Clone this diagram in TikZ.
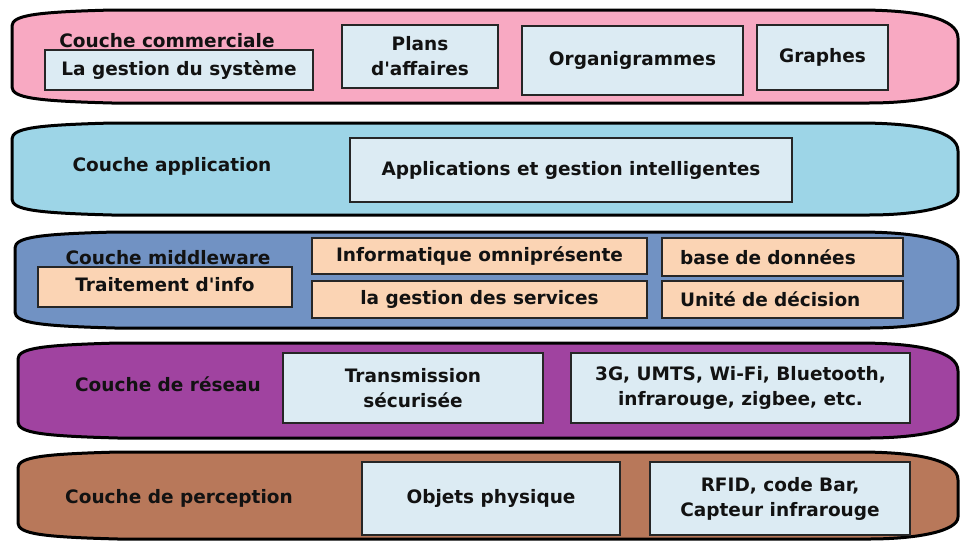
\documentclass[tikz,border=0pt]{standalone}
\usepackage{fontspec}
\setmainfont{DejaVu Sans}[Ligatures=TeXOff]

\definecolor{pinkfill}{HTML}{F8A9C2}
\definecolor{skyfill}{HTML}{9DD5E7}
\definecolor{steelfill}{HTML}{7192C3}
\definecolor{purplefill}{HTML}{A043A0}
\definecolor{brownfill}{HTML}{B8785A}
\definecolor{paleblue}{HTML}{DCEBF3}
\definecolor{peach}{HTML}{FBD4B4}
\definecolor{inkcol}{HTML}{121212}

% Layer band: #1 left x, #2 top y, #3 right x, #4 bottom y, #5 fill colour
\newcommand\coucheband[5]{%
  \filldraw[layerband, fill=#5]
    ({#1+100},#2) -- ({#3-100},#2)
    .. controls ({#3-40},#2) and (#3,{#2+8}) .. (#3,{#2+28})
    -- (#3,{#4-22})
    .. controls (#3,{#4-8}) and ({#3-40},#4) .. ({#3-90},#4)
    -- ({#1+100},#4)
    .. controls ({#1+25},{#4-2}) and (#1,{#4-5}) .. (#1,{#4-16})
    -- (#1,{#2+16})
    .. controls (#1,{#2+5}) and ({#1+25},{#2+2}) .. ({#1+100},#2)
    -- cycle;}

\begin{document}
\begin{tikzpicture}[x=1pt, y=-1pt,
  layerband/.style={draw=black, line width=3pt, line join=round},
  txt/.style={font=\fontsize{18.5}{25}\selectfont\bfseries, text=inkcol, align=center},
  box/.style={txt, draw=black!85, line width=1.3pt, inner sep=0pt},
  bluebox/.style={box, fill=paleblue},
  peachbox/.style={box, fill=peach},
  lab/.style={txt, inner sep=0pt}]

\useasboundingbox (0,0) rectangle (960,542);
\clip (0,0) rectangle (960,542);

% the five layer bands
\coucheband{12}{10}{958}{103}{pinkfill}
\coucheband{12}{123}{958}{215}{skyfill}
\coucheband{15}{232}{958}{328}{steelfill}
\coucheband{18}{343}{958}{438}{purplefill}
\coucheband{18}{452}{958}{539}{brownfill}

% business layer
\node[lab] (lcom) at (167,41) {Couche commerciale};
\node[bluebox, minimum width=268pt, minimum height=40pt] (sys) at (179,70) {La gestion du système};
\node[bluebox, minimum width=156pt, minimum height=63pt] (plans) at (420,56.5) {Plans\\d'affaires};
\node[bluebox, minimum width=221pt, minimum height=69pt] (orga) at (632.5,60.5) {Organigrammes};
\node[bluebox, minimum width=131pt, minimum height=65pt] (graph) at (822.5,57.5) {Graphes};

% application layer
\node[lab] (lapp) at (172,166) {Couche application};
\node[bluebox, minimum width=442pt, minimum height=64pt] (appl) at (571,170) {Applications et gestion intelligentes};

% middleware layer
\node[lab] (lmid) at (168,258) {Couche middleware};
\node[peachbox, minimum width=254pt, minimum height=40pt] (trait) at (165,287) {\raisebox{6pt}{Traitement d'info}};
\node[peachbox, minimum width=335pt, minimum height=36pt] (info) at (479.5,256) {\raisebox{-3pt}{Informatique omniprésente}};
\node[peachbox, minimum width=335pt, minimum height=37pt] (serv) at (479.5,299.5) {\raisebox{-4pt}{la gestion des services}};
\node[peachbox, minimum height=38pt, text width=205pt, inner xsep=18pt, align=left] (bdd) at (782.5,257) {\raisebox{-2pt}{base de données}};
\node[peachbox, minimum height=37pt, text width=205pt, inner xsep=18pt, align=left] (unite) at (782.5,299.5) {Unité de décision};

% network layer
\node[lab] (lres) at (168,384) {Couche de réseau};
\node[bluebox, minimum width=260pt, minimum height=70pt] (trans) at (413,388) {Transmission\\sécurisée};
\node[bluebox, minimum width=339pt, minimum height=70pt] (radio) at (740.5,388) {3G, UMTS, Wi-Fi, Bluetooth,\\infrarouge, zigbee, etc.};

% perception layer
\node[lab] (lper) at (179,498) {Couche de perception};
\node[bluebox, minimum width=258pt, minimum height=73pt] (obj) at (491,498.5) {Objets physique};
\node[bluebox, minimum width=260pt, minimum height=73pt] (rfid) at (780,498.5) {RFID, code Bar,\\Capteur infrarouge};

\end{tikzpicture}
\end{document}
